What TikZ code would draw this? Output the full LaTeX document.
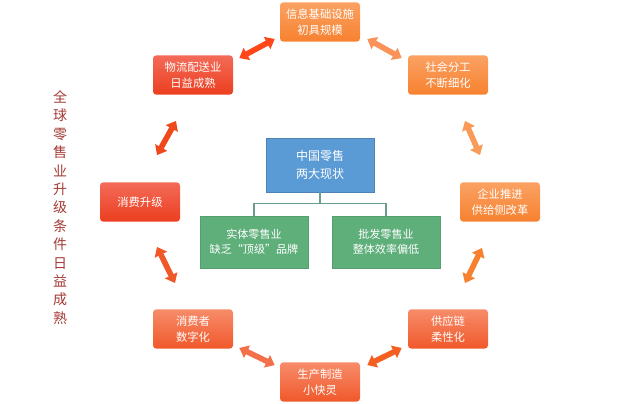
\documentclass[tikz,border=0pt]{standalone}
\usepackage{fontspec}
\usepackage{tikz}
\usetikzlibrary{arrows.meta,positioning}
\newfontfamily\cjk{Noto Sans CJK SC}

\definecolor{hotred}{HTML}{EC3E1F}
\definecolor{softred}{HTML}{F36B58}
\definecolor{warmorange}{HTML}{F7812F}
\definecolor{paleorange}{HTML}{FAA263}
\definecolor{coral}{HTML}{F0582A}
\definecolor{palecoral}{HTML}{F78C6A}
\definecolor{skyblue}{HTML}{5B9BD5}
\definecolor{leafgreen}{HTML}{5FAF7B}
\definecolor{stemcolor}{HTML}{6A9E8B}
\definecolor{titlered}{HTML}{A33A35}

\begin{document}
\begin{tikzpicture}[x=0.75pt, y=-0.75pt, font=\cjk,
  box/.style={rectangle, rounded corners=2.5pt, minimum width=60pt, minimum height=29.5pt, inner sep=0pt, align=center, text=white, font=\cjk\fontsize{8.5}{12}\selectfont},
  redbox/.style={box, top color=softred, bottom color=hotred},
  orangebox/.style={box, top color=paleorange, bottom color=warmorange},
  coralbox/.style={box, top color=palecoral, bottom color=coral},
  statebox/.style={rectangle, minimum width=81pt, minimum height=40.5pt, inner sep=0pt, align=center, text=white, fill=skyblue, draw=skyblue!85!black, font=\cjk\fontsize{9}{13.5}\selectfont},
  kindbox/.style={rectangle, minimum width=81pt, minimum height=39pt, inner sep=0pt, align=center, text=white, fill=leafgreen, draw=leafgreen!90!black, font=\cjk\fontsize{8.3}{11}\selectfont},
  biarrow/.style={line width=4.2pt, {Triangle[length=6.5pt,width=10pt]}-{Triangle[length=6.5pt,width=10pt]}}]
  \useasboundingbox (0,0) rectangle (640,404);

  % ring of conditions
  \node[orangebox] (info) at (320,22) {信息基础设施\\初具规模};
  \node[orangebox] (soc) at (448,75) {社会分工\\不断细化};
  \node[orangebox] (ent) at (500,202) {企业推进\\供给侧改革};
  \node[coralbox] (sup) at (448,329) {供应链\\柔性化};
  \node[coralbox] (mfg) at (320,382) {生产制造\\小快灵};
  \node[coralbox] (dig) at (193,329) {消费者\\数字化};
  \node[redbox] (upg) at (140,202) {消费升级};
  \node[redbox] (log) at (193,75) {物流配送业\\日益成熟};

  % arrows between neighbours
  \draw[biarrow, color=red!60!orange!90] ([shift={(6,3)}]log.north east) -- ([shift={(-5,-3)}]info.south west);
  \draw[biarrow, color=paleorange!90!red] ([shift={(7,-3)}]info.south east) -- ([shift={(-6,3)}]soc.north west);
  \draw[biarrow, color=warmorange!80!white] ([shift={(17,26)}]soc.south) -- ([shift={(-20,-27)}]ent.north);
  \draw[biarrow, color=warmorange] ([shift={(-18,26)}]ent.south) -- ([shift={(17,-26)}]sup.north);
  \draw[biarrow, color=coral!80!orange] ([shift={(-6,-1)}]sup.south west) -- ([shift={(7,3)}]mfg.north east);
  \draw[biarrow, color=coral!85!white] ([shift={(-5,3)}]mfg.north west) -- ([shift={(6,-1)}]dig.south east);
  \draw[biarrow, color=coral] ([shift={(-18,-26)}]dig.north) -- ([shift={(17,25)}]upg.south);
  \draw[biarrow, color=hotred!85!orange] ([shift={(17,-27)}]upg.north) -- ([shift={(-17,26)}]log.south);

  % centre: current state
  \node[statebox] (cn) at (320,165) {中国零售\\两大现状};
  \node[kindbox] (phys) at (254,242) {实体零售业\\缺乏“顶级”品牌};
  \node[kindbox] (whole) at (386,242) {批发零售业\\整体效率偏低};
  \draw[stemcolor, line width=0.8pt] (cn.south) -- ++(0,11) -| (phys.north);
  \draw[stemcolor, line width=0.8pt] (cn.south) -- ++(0,11) -| (whole.north);

  % side title
  \node[text=titlered, align=center, font=\cjk\fontsize{10.5}{13.8}\selectfont] (title) at (60,207.5)
    {全\\球\\零\\售\\业\\升\\级\\条\\件\\日\\益\\成\\熟};
\end{tikzpicture}
\end{document}
